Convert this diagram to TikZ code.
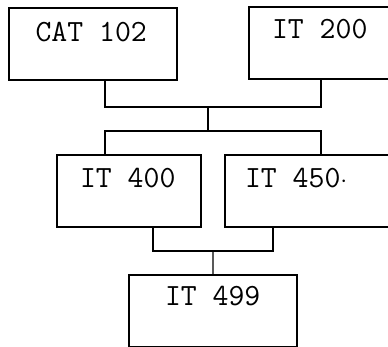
\documentclass[tikz,border=0pt]{standalone}
\begin{document}
\begin{tikzpicture}[x=1bp,y=-1bp,
  box/.style={draw, line width=1.4bp, minimum width=168bp, minimum height=72bp, inner sep=0pt, outer sep=0pt, anchor=north west},
  lbl/.style={font=\ttfamily\fontsize{31}{31}\selectfont, anchor=base west, inner sep=0pt, outer sep=0pt},
  conn/.style={line width=1.4bp}]
\useasboundingbox (0,0) rectangle (388,347);
\clip (0,0) rectangle (388,347);
\node[box] (cat) at (9,8) {};
\node[box] (it200) at (249,7) {};
\node[box, minimum width=144bp] (it400) at (57,155) {};
\node[box] (it450) at (225,155) {};
\node[box] (it499) at (129,275) {};
\node[lbl] (tcat) at (35.5,41) {CAT 102};
\node[lbl] (t200) at (272,38) {IT 200};
\node[lbl] (t400) at (80,187) {IT 400};
\node[lbl] (t450) at (245,187) {IT 450$\cdot$};
\node[lbl] (t499) at (165,305) {IT 499};
\coordinate (j1) at (208,107);
\coordinate (j2) at (208,131);
\coordinate (j3) at (213,251);
\draw[conn] ([xshift=96bp]cat.south west) |- (j1) -| ([xshift=72bp]it200.south west);
\draw[conn] (j1) -- (j2);
\draw[conn] ([xshift=48bp]it400.north west) |- (j2) -| ([xshift=96bp]it450.north west);
\draw[conn] ([xshift=96bp]it400.south west) |- (j3) -| ([xshift=48bp]it450.south west);
\draw[conn] (j3) -- (it499.north);
\end{tikzpicture}
\end{document}
